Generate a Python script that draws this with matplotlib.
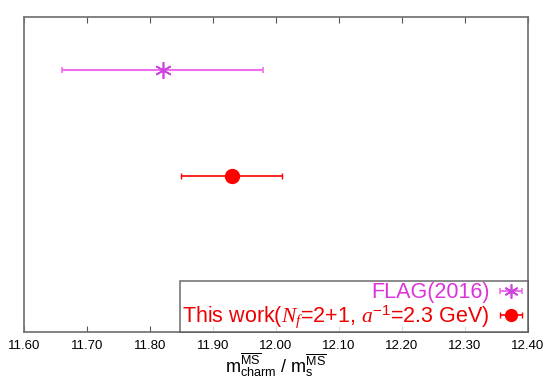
import matplotlib
matplotlib.use("Agg")
import matplotlib.pyplot as plt
from matplotlib.ticker import MultipleLocator, FormatStrFormatter

plt.rcParams['font.family'] = ['Liberation Sans', 'DejaVu Sans']
plt.rcParams['mathtext.fontset'] = 'custom'
plt.rcParams['mathtext.rm'] = 'Liberation Sans'
plt.rcParams['mathtext.it'] = 'Liberation Serif:italic'
plt.rcParams['mathtext.bf'] = 'Liberation Sans:bold'

labels = ["FLAG(2016)", r"This work($N_f$=2+1, $a^{-1}$=2.3 GeV)"]
values = [11.82, 11.93]
errors = [0.16, 0.08]
ypos = [2, 1]
colors = ["#ee70ee", "#ff0000"]
text_colors = ["#dd33dd", "#ee0000"]

fig = plt.figure(figsize=(5.43, 3.80), dpi=100)
ax = fig.add_axes([24/543, 1-332/380, (528-24)/543, (332-17)/380])

h1 = ax.errorbar(values[0], ypos[0], xerr=errors[0], fmt='', linestyle='none',
                 marker=(6, 2, 0), color="#cc44dd",
                 markersize=12, mew=1.2, ecolor=colors[0], elinewidth=1.5, capsize=2,
                 label=labels[0])
h2 = ax.errorbar(values[1], ypos[1], xerr=errors[1], fmt='o', color=colors[1],
                 markersize=10, ecolor=colors[1], elinewidth=1.2, capsize=2,
                 label=labels[1])

ax.set_xlim(11.60, 12.40)
ax.set_ylim(-0.47, 2.5)
ax.xaxis.set_major_locator(MultipleLocator(0.1))
ax.xaxis.set_major_formatter(FormatStrFormatter('%.2f'))
ax.set_yticks([])
ax.tick_params(axis='x', direction='in', top=True, length=4, labelsize=9.5, pad=6,
               color='#555555')
for s in ax.spines.values():
    s.set_color('#777777')
    s.set_linewidth(1.3)

ax.set_xlabel(r'$\mathrm{m}_{\mathrm{charm}}^{\overline{\mathrm{MS}}}$ / $\mathrm{m}_{\mathrm{s}}^{\overline{\mathrm{MS}}}$',
              fontsize=13, labelpad=-1)

leg = ax.legend(handles=[h1, h2], loc='lower right', markerfirst=False,
                fontsize=15.5, frameon=True, fancybox=False, borderaxespad=0,
                handlelength=1.4, handletextpad=0.3, borderpad=0.08,
                labelspacing=0.0, markerscale=0.85)
leg.get_frame().set_edgecolor('#555555')
leg.get_frame().set_linewidth(1.2)
for t, c in zip(leg.get_texts(), text_colors):
    t.set_color(c)

fig.savefig("out.png", dpi=100)
